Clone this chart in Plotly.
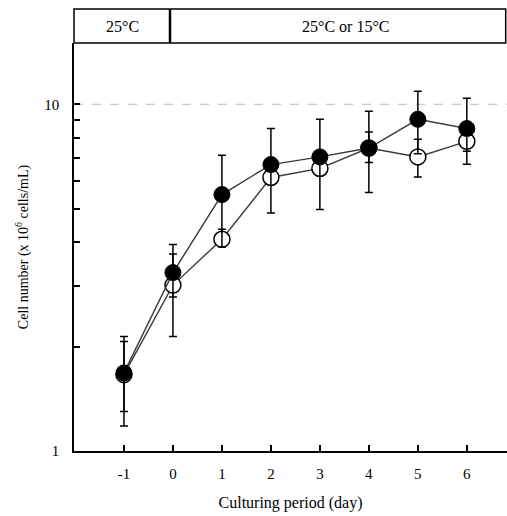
import plotly.graph_objects as go

days = [-1, 0, 1, 2, 3, 4, 5, 6]
# filled circles
filled = [1.68, 3.27, 5.49, 6.70, 7.05, 7.48, 9.05, 8.51]
filled_up = [0.46, 0.67, 1.64, 1.81, 2.00, 2.07, 1.85, 1.89]
filled_dn = [0.50, 0.49, 1.61, 1.84, 2.08, 1.91, 1.85, 1.80]
# open circles
open_ = [1.66, 3.01, 4.08, 6.15, 6.53, 7.48, 7.05, 7.82]
open_up = [0.41, 0.69, 0.28, 0.20, 0.20, 0.84, 0.88, 0.50]
open_dn = [0.36, 0.87, 0.20, 0.20, 0.20, 0.69, 0.88, 0.50]

y_major = [1, 10]
y_minor = [2, 3, 4, 5, 6, 7, 8, 9]
grid_level = 10
x_range = [-2.02, 6.82]

header_labels = ["25\u00b0C", "25\u00b0C or 15\u00b0C"]
header_split = -0.06

FONT = "Liberation Serif, Times New Roman, serif"

fig = go.Figure()
# dashed reference line at 10
fig.add_trace(go.Scatter(x=x_range, y=[grid_level, grid_level], mode="lines",
                         line=dict(color="#bbbbbb", width=1, dash="dash"),
                         hoverinfo="skip", showlegend=False))
fig.add_trace(go.Scatter(
    x=days, y=open_, mode="lines+markers",
    line=dict(color="#3a3a3a", width=1.4),
    marker=dict(symbol="circle", size=16, color="white", line=dict(color="black", width=1.5)),
    error_y=dict(type="data", symmetric=False, array=open_up, arrayminus=open_dn,
                 color="black", thickness=1.5, width=4),
    showlegend=False))
fig.add_trace(go.Scatter(
    x=days, y=filled, mode="lines+markers",
    line=dict(color="#3a3a3a", width=1.4),
    marker=dict(symbol="circle", size=16, color="black", line=dict(color="black", width=1)),
    error_y=dict(type="data", symmetric=False, array=filled_up, arrayminus=filled_dn,
                 color="black", thickness=1.5, width=4),
    showlegend=False))

top = 1 + 34 / 408
fig.add_shape(type="rect", xref="paper", yref="paper", x0=0, x1=0.997, y0=1, y1=top,
              line=dict(color="black", width=1.5), fillcolor="white", layer="above")
fig.add_shape(type="line", xref="x", yref="paper", x0=header_split, x1=header_split, y0=1, y1=top,
              line=dict(color="black", width=2.5))
fig.add_annotation(xref="paper", yref="paper", x=0.111, y=(1 + top) / 2, yanchor="middle",
                   xanchor="center", text=header_labels[0],
                   showarrow=False, font=dict(family=FONT, size=16, color="black"))
fig.add_annotation(xref="paper", yref="paper", x=0.628, y=(1 + top) / 2, yanchor="middle",
                   xanchor="center", text=header_labels[1],
                   showarrow=False, font=dict(family=FONT, size=16, color="black"))

fig.update_layout(
    width=507, height=516,
    margin=dict(l=74, r=0, t=43, b=65),
    paper_bgcolor="white", plot_bgcolor="white",
    font=dict(family=FONT, size=15, color="black"),
    xaxis=dict(range=x_range, tickvals=days, ticktext=[str(d) for d in days],
               ticks="inside", ticklen=6, tickwidth=1.5, tickcolor="black",
               showline=True, linecolor="black", linewidth=1.5, showgrid=False, zeroline=False,
               ticklabelstandoff=8,
               title=dict(text="Culturing period (day)", font=dict(size=16), standoff=16)),
    yaxis=dict(type="log", range=[0, 1.1767], tickmode="array", tickvals=y_major,
               ticktext=[str(v) for v in y_major],
               ticks="inside", ticklen=6, tickwidth=1.5, tickcolor="black",
               showline=True, linecolor="black", linewidth=1.5,
               showgrid=False, zeroline=False,
               minor=dict(tickmode="array", tickvals=y_minor, ticks="inside", ticklen=6,
                          tickwidth=1.5, tickcolor="black", showgrid=False),
               ticklabelstandoff=10,
               title=dict(text="Cell number (x 10<sup>6</sup> cells/mL)", font=dict(size=14), standoff=12)),
)

fig.write_html("out.html")
